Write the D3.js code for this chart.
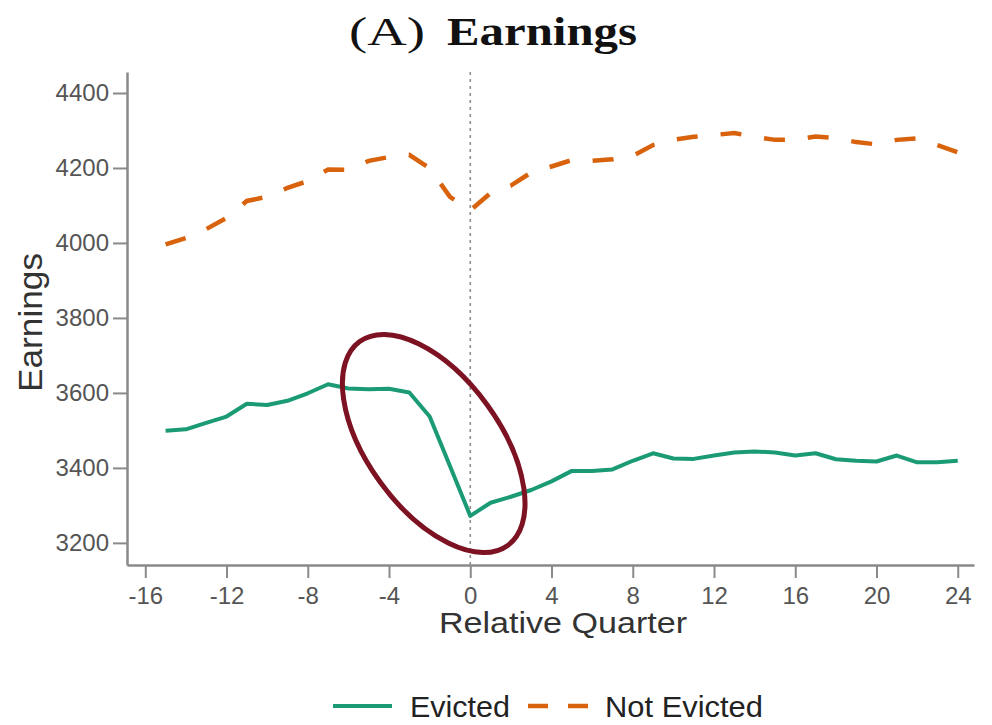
<!DOCTYPE html>
<html>
<head>
<meta charset="utf-8">
<script src="https://cdn.jsdelivr.net/npm/d3@7"></script>
<style>
  html, body { margin: 0; padding: 0; background: #fff; }
  svg { display: block; }
</style>
</head>
<body>
<svg id="chart" width="992" height="725"></svg>
<script>
// Relative quarter around the eviction filing (0 = filing quarter)
const quarters = d3.range(-15, 25);

// Quarterly earnings, evicted tenants
const evicted = [
  3499, 3503, 3520, 3537, 3571, 3568, 3579, 3599, 3623, 3612,
  3610, 3611, 3601, 3537, 3405, 3272, 3307, 3323, 3341, 3364,
  3392, 3392, 3396, 3419, 3439, 3425, 3424, 3433, 3441, 3444,
  3441, 3433, 3439, 3423, 3419, 3417, 3433, 3415, 3415, 3419
];

// Quarterly earnings, tenants not evicted
const notEvicted = [
  3996, 4013, 4037, 4067, 4112, 4123, 4147, 4165, 4196, 4195,
  4219, 4229, 4235, 4199, 4123, 4087, 4133, 4153, 4188, 4204,
  4221, 4219, 4223, 4232, 4261, 4275, 4283, 4288, 4293, 4283,
  4275, 4275, 4284, 4280, 4269, 4263, 4275, 4279, 4261, 4242
];

const xTicks = [-16, -12, -8, -4, 0, 4, 8, 12, 16, 20, 24];
const yTicks = [3200, 3400, 3600, 3800, 4000, 4200, 4400];
const xDomain = [-16.9, 24.8];
const yDomain = [3141, 4456];

// Highlighted drop around the filing quarter
const highlight = { q: -1.8, v: 3465 };

const legendItems = [
  { label: "Evicted", key: "evicted" },
  { label: "Not Evicted", key: "notEvicted" }
];

const colors = { evicted: "#1b9a76", notEvicted: "#d9620c" };

const svg = d3.select("#chart");
const plot = { left: 127, right: 974, top: 72, bottom: 565 };

const x = d3.scaleLinear().domain(xDomain).range([plot.left, plot.right]);
const y = d3.scaleLinear().domain(yDomain).range([plot.bottom, plot.top]);

const axisColor = "#8a8a8a";
const tickText = "#555";
const plain = d => String(d);

// Y axis
const gy = svg.append("g")
  .attr("transform", `translate(${plot.left},0)`)
  .call(d3.axisLeft(y).tickValues(yTicks).tickSize(14).tickSizeOuter(0).tickPadding(4)
    .tickFormat(plain));
gy.select(".domain").attr("stroke", axisColor).attr("stroke-width", 2.5);
gy.selectAll(".tick line").attr("stroke", axisColor).attr("stroke-width", 2);
gy.selectAll(".tick text")
  .attr("fill", tickText)
  .style("font-family", "'Liberation Sans', Arial, sans-serif")
  .style("font-size", "24px");

// X axis
const gx = svg.append("g")
  .attr("transform", `translate(0,${plot.bottom})`)
  .call(d3.axisBottom(x).tickValues(xTicks).tickSize(13).tickSizeOuter(0).tickPadding(9)
    .tickFormat(plain));
gx.select(".domain").attr("stroke", axisColor).attr("stroke-width", 2.5);
gx.selectAll(".tick line").attr("stroke", axisColor).attr("stroke-width", 2);
gx.selectAll(".tick text")
  .attr("fill", tickText)
  .style("font-family", "'Liberation Sans', Arial, sans-serif")
  .style("font-size", "24px");

// Reference line at the filing quarter
svg.append("line")
  .attr("x1", x(0)).attr("x2", x(0))
  .attr("y1", plot.top).attr("y2", plot.bottom)
  .attr("stroke", "#8d8d8d")
  .attr("stroke-width", 1.6)
  .attr("stroke-dasharray", "3,4");

const line = d3.line()
  .x((d, i) => x(quarters[i]))
  .y(d => y(d));

svg.append("path")
  .datum(notEvicted)
  .attr("d", line)
  .attr("fill", "none")
  .attr("stroke", colors.notEvicted)
  .attr("stroke-width", 4.5)
  .attr("stroke-dasharray", "21,23");

svg.append("path")
  .datum(evicted)
  .attr("d", line)
  .attr("fill", "none")
  .attr("stroke", colors.evicted)
  .attr("stroke-width", 4)
  .attr("stroke-linejoin", "round");

// Ellipse around the drop
svg.append("ellipse")
  .attr("cx", 0).attr("cy", 0)
  .attr("rx", 126).attr("ry", 66)
  .attr("transform", `translate(${x(highlight.q)},${y(highlight.v)}) rotate(54)`)
  .attr("fill", "none")
  .attr("stroke", "#7c1222")
  .attr("stroke-width", 5);

// Title
const title = svg.append("g")
  .style("font-family", "'Liberation Serif', 'Times New Roman', serif")
  .attr("fill", "#111");
title.append("text")
  .attr("x", 349).attr("y", 45)
  .attr("textLength", 76).attr("lengthAdjust", "spacingAndGlyphs")
  .style("font-size", "41px")
  .text("(A)");
title.append("text")
  .attr("x", 447).attr("y", 45)
  .attr("textLength", 190).attr("lengthAdjust", "spacingAndGlyphs")
  .style("font-size", "41px")
  .style("font-weight", "bold")
  .text("Earnings");

// Axis titles
svg.append("text")
  .attr("transform", `translate(42,${(253 + 392) / 2}) rotate(-90)`)
  .attr("text-anchor", "middle")
  .attr("textLength", 139).attr("lengthAdjust", "spacingAndGlyphs")
  .attr("fill", "#333")
  .style("font-family", "'Liberation Sans', Arial, sans-serif")
  .style("font-size", "34px")
  .text("Earnings");

svg.append("text")
  .attr("x", 439).attr("y", 633)
  .attr("textLength", 248).attr("lengthAdjust", "spacingAndGlyphs")
  .attr("fill", "#333")
  .style("font-family", "'Liberation Sans', Arial, sans-serif")
  .style("font-size", "29px")
  .text("Relative Quarter");

// Legend
const legendY = 706;
const legendLayout = {
  evicted: { x1: 333, x2: 392, tx: 410, tw: 100, dash: null, width: 4 },
  notEvicted: { x1: 528, x2: 588, tx: 605, tw: 158, dash: "20,20", width: 4.5 }
};
const lg = svg.append("g");
legendItems.forEach(item => {
  const L = legendLayout[item.key];
  lg.append("line")
    .attr("x1", L.x1).attr("x2", L.x2)
    .attr("y1", legendY).attr("y2", legendY)
    .attr("stroke", colors[item.key])
    .attr("stroke-width", L.width)
    .attr("stroke-dasharray", L.dash);
  lg.append("text")
    .attr("x", L.tx).attr("y", legendY + 11)
    .attr("textLength", L.tw).attr("lengthAdjust", "spacingAndGlyphs")
    .attr("fill", "#222")
    .style("font-family", "'Liberation Sans', Arial, sans-serif")
    .style("font-size", "29px")
    .text(item.label);
});
</script>
</body>
</html>
